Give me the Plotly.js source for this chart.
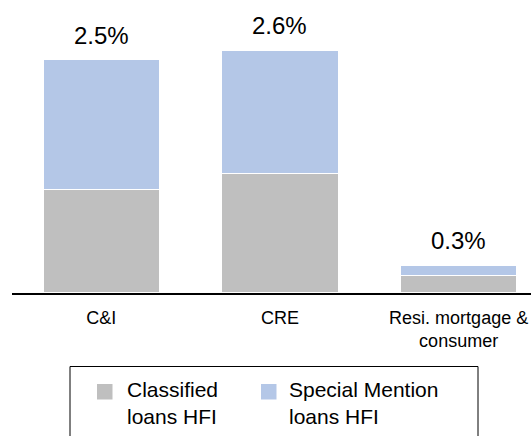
<!DOCTYPE html>
<html>
<head>
<meta charset="utf-8">
<script src="https://cdn.plot.ly/plotly-3.0.1.min.js"></script>
<style>
  html, body { margin: 0; padding: 0; background: #ffffff; }
  #chart { width: 531px; height: 436px; }
</style>
</head>
<body>
<div id="chart"></div>
<script>
// Loan categories and their criticized-loan ratios (% of loans held for investment)
const categories = ["C&I", "CRE", "Resi. mortgage &<br>consumer"];
const classified = [1.11, 1.28, 0.19];      // Classified loans HFI
const specialMention = [1.39, 1.32, 0.11];  // Special Mention loans HFI
const seriesNames = ["Classified<br>loans HFI", "Special Mention<br>loans HFI"];

const GRAY = "#bfbfbf";
const BLUE = "#b4c7e7";
const FONT = "Arial, 'Liberation Sans', sans-serif";

// Figure geometry (pixels)
const W = 531, H = 436;
const M = { l: 12, r: 0, t: 10, b: 143 };
const pw = W - M.l - M.r, ph = H - M.t - M.b;
const px = x => (x - M.l) / pw;          // pixel x -> paper x
const py = y => (H - M.b - y) / ph;      // pixel y -> paper y

const totals = categories.map((_, i) => classified[i] + specialMention[i]);

const traces = [
  {
    type: "bar", name: seriesNames[0], x: categories, y: classified,
    marker: { color: GRAY, line: { color: "#ffffff", width: 1.5 } },
    hoverinfo: "skip", showlegend: false
  },
  {
    type: "bar", name: seriesNames[1], x: categories, y: specialMention,
    marker: { color: BLUE, line: { color: "#ffffff", width: 1.5 } },
    hoverinfo: "skip", showlegend: false
  }
];

// Total labels above each stacked bar
const annotations = categories.map((c, i) => ({
  x: c, y: totals[i], xref: "x", yref: "y",
  text: totals[i].toFixed(1) + "%",
  showarrow: false, yanchor: "bottom", yshift: 9,
  font: { family: FONT, size: 24, color: "#000000" }
}));

// Legend box with swatches and two-line entries
const legendItems = [
  { name: seriesNames[0], color: GRAY, swatchX: 97, textX: 125 },
  { name: seriesNames[1], color: BLUE, swatchX: 261, textX: 287 }
];
const shapes = [
  {
    type: "rect", xref: "paper", yref: "paper",
    x0: px(70), x1: px(478), y0: py(470), y1: py(366.5),
    line: { color: "#000000", width: 1 }, fillcolor: "rgba(0,0,0,0)"
  }
];
legendItems.forEach(it => {
  shapes.push({
    type: "rect", xref: "paper", yref: "paper",
    x0: px(it.swatchX), x1: px(it.swatchX + 15.5), y0: py(399.5), y1: py(384),
    line: { width: 0 }, fillcolor: it.color
  });
  annotations.push({
    xref: "paper", yref: "paper", x: px(it.textX), y: py(376),
    xanchor: "left", yanchor: "top", align: "left", showarrow: false,
    text: it.name,
    font: { family: FONT, size: 21, color: "#000000" }
  });
});

const layout = {
  width: W, height: H,
  margin: M,
  paper_bgcolor: "#ffffff", plot_bgcolor: "#ffffff",
  barmode: "stack", bargap: 0.345,
  showlegend: false,
  xaxis: {
    type: "category", range: [-0.5, 2.405],
    showline: true, linecolor: "#000000", linewidth: 2,
    ticks: "", ticklabelstandoff: 7,
    showgrid: false, zeroline: false, fixedrange: true,
    tickfont: { family: FONT, size: 18, color: "#000000" }
  },
  yaxis: {
    range: [0, 3.03], visible: false, showgrid: false, zeroline: false, fixedrange: true
  },
  shapes: shapes,
  annotations: annotations,
  font: { family: FONT, color: "#000000" }
};

Plotly.newPlot("chart", traces, layout, { staticPlot: true, displayModeBar: false });
</script>
</body>
</html>
